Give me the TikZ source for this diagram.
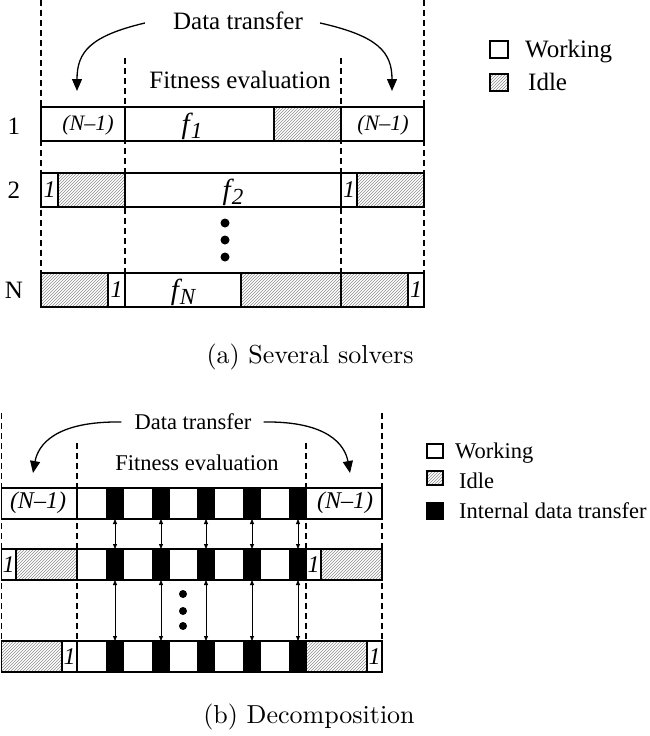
\documentclass[tikz,border=0pt]{standalone}
\usepackage{fontspec}
\newfontfamily\tnr{Liberation Serif}
\usetikzlibrary{arrows.meta,patterns}
\newcommand\fsz[1]{\fontsize{#1}{#1}\selectfont}
\newcommand\fsub[1]{{\tnr\itshape\fsz{29}f\kern1pt\raisebox{-0.2em}{\fsz{23}#1}}}
\begin{document}
\begin{tikzpicture}[x=1pt,y=-1pt,
  box/.style={draw,line width=1.4pt},
  wseg/.style={box,fill=white},
  iseg/.style={box,pattern=north east lines,pattern color=black!45},
  bblk/.style={draw,line width=1.2pt,fill=black,minimum width=16pt,minimum height=31pt,inner sep=0pt,outer sep=0pt},
  vd/.style={line width=1.2pt,dash pattern=on 6pt off 4pt},
  txtA/.style={font=\tnr\fsz{25},inner sep=0pt},
  txtB/.style={font=\tnr\fsz{22.5},inner sep=0pt},
  itl/.style={font=\tnr\itshape\fsz{#1},inner sep=0pt},
  bigarr/.style={line width=1.3pt,-{Triangle[length=12pt,width=10pt]}},
  dblarr/.style={line width=0.8pt,{Triangle[length=5pt,width=4pt]}-{Triangle[length=5pt,width=4pt]}},
  dot/.style={circle,fill=black,inner sep=0pt,minimum size=#1},
  captxt/.style={font=\fsz{10},inner sep=0pt}
]
\useasboundingbox (0,0) rectangle (649,736);

% ================= (a) =================
\draw[vd] (41,0) -- (41,273);
\draw[vd] (424,0) -- (424,273);
\draw[vd] (125,58) -- (125,273);
\draw[vd] (341,58) -- (341,273);

\node[txtA] (dt1) at (238,21) {Data transfer};
\node[txtA] (fe1) at (240,80) {Fitness evaluation};
\coordinate (la) at (77,91);
\coordinate (ra) at (392,91);
\draw[bigarr] ([shift={(-28,2)}]dt1.west) .. controls (90,36) and (77,52) .. (la);
\draw[bigarr] ([shift={(17,2)}]dt1.east) .. controls (378,36) and (392,52) .. (ra);

% row 1
\draw[wseg] (41,107) rectangle (125,141);
\draw[wseg] (125,107) rectangle (274,141);
\draw[iseg] (274,107) rectangle (341,141);
\draw[wseg] (341,107) rectangle (424,141);
\node[txtA] (r1) at (14,126) {1};
\node[itl=22] (a1l) at (88,125) {(N–1)};
\node[inner sep=0pt] (a1f) at (192,126) {\fsub{1}};
\node[itl=22] (a1r) at (383,125) {(N–1)};

% row 2
\draw[wseg] (41,173) rectangle (58,207);
\draw[iseg] (58,173) rectangle (125,207);
\draw[wseg] (125,173) rectangle (341,207);
\draw[wseg] (341,173) rectangle (357,207);
\draw[iseg] (357,173) rectangle (424,207);
\node[txtA] (r2) at (14,190) {2};
\node[itl=24] (a2a) at (49.5,190) {1};
\node[inner sep=0pt] (a2f) at (233,192) {\fsub{2}};
\node[itl=24] (a2b) at (349,190) {1};

% dots
\node[dot=9pt] (d1) at (225,223) {};
\node[dot=9pt] (d2) at (225,240) {};
\node[dot=9pt] (d3) at (225,257) {};

% row N
\draw[iseg] (41,273) rectangle (108,307);
\draw[wseg] (108,273) rectangle (125,307);
\draw[wseg] (125,273) rectangle (241,307);
\draw[iseg] (241,273) rectangle (341,307);
\draw[iseg] (341,273) rectangle (408,307);
\draw[wseg] (408,273) rectangle (424,307);
\node[txtA] (rN) at (14,290) {N};
\node[itl=24] (aNa) at (116.5,290) {1};
\node[inner sep=0pt] (aNf) at (183,292) {\fsub{N}};
\node[itl=24] (aNb) at (416,290) {1};

% legend (a)
\draw[box,line width=1.1pt,fill=white] (490,41) rectangle (508,58);
\node[txtA,anchor=base west] (lwa) at (525,57) {Working};
\draw[iseg,line width=1.1pt] (490,74) rectangle (508,91);
\node[txtA,anchor=base west] (lia) at (528,90) {Idle};

\node[captxt] (capa) at (310,357) {\scalebox{2.6}{(a) Several solvers}};

% ================= (b) =================
\draw[vd] (1.5,413) -- (1.5,641);
\draw[vd] (382,413) -- (382,641);
\draw[vd] (77,443) -- (77,641);
\draw[vd] (306,443) -- (306,641);

\node[txtB] (dt2) at (193,422) {Data transfer};
\node[txtB] (fe2) at (197,463) {Fitness evaluation};
\coordinate (lb) at (33,473);
\coordinate (rb) at (350,473);
\draw[bigarr] ([shift={(-13,0)}]dt2.west) .. controls (55,421) and (38,445) .. (lb);
\draw[bigarr] ([shift={(12,0)}]dt2.east) .. controls (328,421) and (345,445) .. (rb);

% row 1
\draw[wseg] (1.5,488) rectangle (77,519);
\draw[wseg] (77,488) rectangle (306,519);
\draw[wseg] (306,488) rectangle (382,519);
\node[itl=24] (b1l) at (38,503) {(N–1)};
\node[itl=24] (b1r) at (345,503) {(N–1)};

% row 2
\draw[wseg] (1.5,549) rectangle (16,580);
\draw[iseg] (16,549) rectangle (77,580);
\draw[wseg] (77,549) rectangle (306,580);
\draw[wseg] (306,549) rectangle (321,580);
\draw[iseg] (321,549) rectangle (382,580);
\node[itl=24] (b2a) at (8.5,564.5) {1};
\node[itl=24] (b2b) at (313.5,564.5) {1};

% row 3
\draw[iseg] (1.5,641) rectangle (62,672);
\draw[wseg] (62,641) rectangle (77,672);
\draw[wseg] (77,641) rectangle (306,672);
\draw[iseg] (306,641) rectangle (367,672);
\draw[wseg] (367,641) rectangle (382,672);
\node[itl=24] (b3a) at (69.5,656.5) {1};
\node[itl=24] (b3b) at (374.5,656.5) {1};

% black blocks
\foreach \i/\x in {1/115,2/161,3/206,4/252,5/298}{
  \node[bblk] (b1-\i) at (\x,503.5) {};
  \node[bblk] (b2-\i) at (\x,564.5) {};
  \node[bblk] (b3-\i) at (\x,656.5) {};
}
\foreach \i in {1,...,5}{
  \draw[dblarr] (b1-\i.south) -- (b2-\i.north);
  \draw[dblarr] (b2-\i.south) -- (b3-\i.north);
}

% dots
\node[dot=8pt] (e1) at (183,594) {};
\node[dot=8pt] (e2) at (183,611) {};
\node[dot=8pt] (e3) at (183,626) {};

% legend (b)
\draw[box,line width=1.1pt,fill=white] (427,444) rectangle (443,458);
\node[txtB,anchor=base west] (lwb) at (455,458) {Working};
\draw[iseg,line width=1.1pt] (427,471) rectangle (443,485);
\node[txtB,anchor=base west] (lib) at (459,488) {Idle};
\draw[box,line width=1.1pt,fill=black] (427,503) rectangle (443,519);
\node[txtB,anchor=base west] (lxb) at (459,518) {Internal data transfer};

\node[captxt] (capb) at (309,717) {\scalebox{2.6}{(b) Decomposition}};
\end{tikzpicture}
\end{document}
